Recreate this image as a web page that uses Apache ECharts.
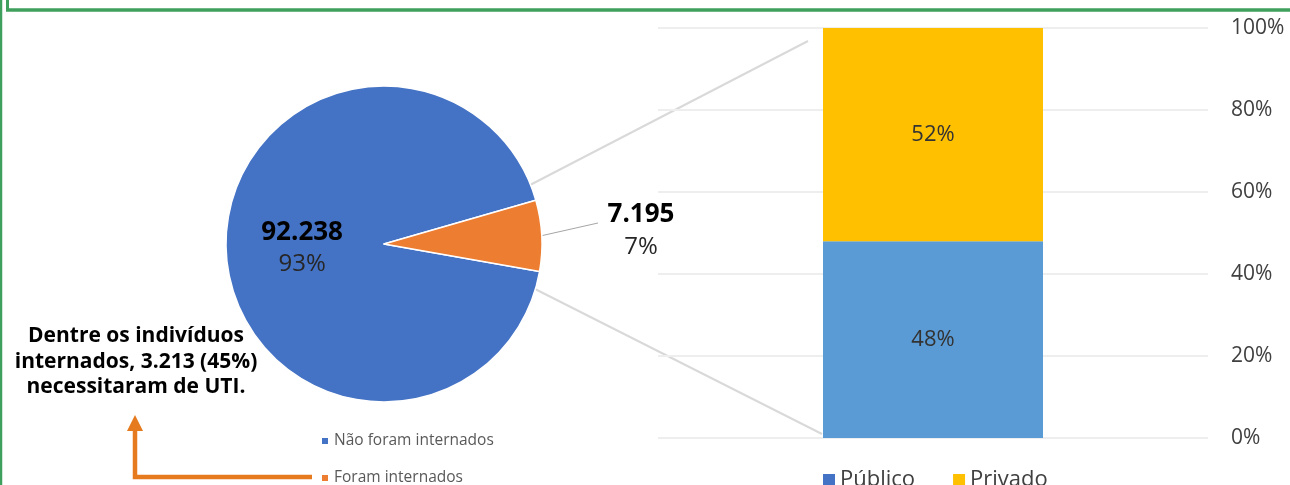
<!DOCTYPE html>
<html>
<head>
<meta charset="utf-8">
<script src="https://cdn.jsdelivr.net/npm/echarts@6/dist/echarts.min.js"></script>
<style>
  html, body { margin: 0; padding: 0; background: #fff; }
  #chart { width: 1290px; height: 485px; }
</style>
</head>
<body>
<div id="chart"></div>
<script>
// dados do gráfico
const pieNames = ['Não foram internados', 'Foram internados']
const pieValues = [92238, 7195]
const piePercents = [93, 7]
const barCategories = ['Internados']
const publicoValues = [48]
const privadoValues = [52]
const yTicks = [0, 20, 40, 60, 80, 100]

const chart = echarts.init(document.getElementById('chart'))
const font = '"Open Sans", "Noto Sans", sans-serif'
const green = '#3f9f5c'
const orange = '#e57a1f'

const pieLegendStyle = { fontSize: 15.5, color: '#595959', fontFamily: font }

const option = {
  backgroundColor: '#fff',
  textStyle: { fontFamily: font },
  animation: false,
  legend: [{
    // legenda da pizza (um item por legenda)
    left: 315,
    top: 428,
    itemWidth: 8,
    itemHeight: 8,
    icon: 'rect',
    data: [pieNames[0]],
    textStyle: pieLegendStyle
  }, {
    left: 315,
    top: 465,
    itemWidth: 8,
    itemHeight: 8,
    icon: 'rect',
    data: [pieNames[1]],
    textStyle: pieLegendStyle
  }, {
    // legenda das barras
    left: 818,
    top: 464,
    itemWidth: 12,
    itemHeight: 12,
    itemGap: 38,
    icon: 'rect',
    data: [
      { name: 'Público', itemStyle: { color: '#4472c4' } },
      { name: 'Privado', itemStyle: { color: '#ffc000' } }
    ],
    textStyle: { fontSize: 22, color: '#404040', fontFamily: font }
  }],
  grid: {
    left: 658,
    right: 82,
    top: 28,
    bottom: 47
  },
  xAxis: {
    type: 'category',
    data: barCategories,
    axisLine: { show: false },
    axisTick: { show: false },
    axisLabel: { show: false }
  },
  yAxis: {
    type: 'value',
    position: 'right',
    min: yTicks[0],
    max: yTicks[yTicks.length - 1],
    interval: yTicks[1] - yTicks[0],
    axisLine: { show: false },
    axisTick: { show: false },
    axisLabel: {
      formatter: '{value}%',
      align: 'left',
      margin: 23,
      fontSize: 21,
      color: '#404040',
      fontFamily: font
    },
    splitLine: { lineStyle: { color: '#eeeeee', width: 2 } }
  },
  series: [{
    name: 'pizza',
    type: 'pie',
    center: [384, 244],
    radius: 158,
    startAngle: -10,
    clockwise: true,
    itemStyle: { borderColor: '#fff', borderWidth: 1.5 },
    data: pieNames.map((n, i) => ({
      name: n,
      value: pieValues[i],
      itemStyle: { color: i === 0 ? '#4472c4' : '#ed7d31' },
      label: { position: i === 0 ? 'inside' : 'outside' },
      labelLine: { show: i !== 0 }
    })),
    label: {
      formatter: p => '{b|' + p.value.toLocaleString('de-DE') + '}\n{p|' + piePercents[p.dataIndex] + '%}',
      rich: {
        b: { fontSize: 26, fontWeight: 'bold', color: '#000', fontFamily: font, lineHeight: 32, align: 'center' },
        p: { fontSize: 24, color: '#262626', fontFamily: font, lineHeight: 32, align: 'center' }
      }
    },
    labelLine: { lineStyle: { color: '#a6a6a6', width: 1 } },
    labelLayout: function (params) {
      if (params.dataIndex === 1) {
        const start = params.labelLinePoints ? params.labelLinePoints[0] : [540, 236]
        return {
          x: 641, y: 231, align: 'center', verticalAlign: 'middle',
          labelLinePoints: [start, [598, 223]]
        }
      }
      return {}
    },
    emphasis: { disabled: true }
  }, {
    name: 'Público',
    type: 'bar',
    stack: 'total',
    barWidth: 220,
    data: publicoValues,
    itemStyle: { color: '#5b9bd5' },
    label: { show: true, position: 'inside', formatter: '{c}%', fontSize: 22, color: '#333', fontFamily: font }
  }, {
    name: 'Privado',
    type: 'bar',
    stack: 'total',
    barWidth: 220,
    data: privadoValues,
    itemStyle: { color: '#ffc000' },
    label: { show: true, position: 'inside', formatter: '{c}%', fontSize: 22, color: '#333', fontFamily: font }
  }],
  graphic: [
    // moldura verde
    { type: 'line', shape: { x1: 1, y1: 0, x2: 1, y2: 485 }, style: { stroke: green, lineWidth: 2.5 } },
    { type: 'line', shape: { x1: 7.5, y1: 0, x2: 7.5, y2: 10 }, style: { stroke: green, lineWidth: 3 } },
    { type: 'line', shape: { x1: 6, y1: 10, x2: 1290, y2: 10 }, style: { stroke: green, lineWidth: 3.5 } },
    // linhas ligando pizza e barra
    { type: 'line', shape: { x1: 530, y1: 185, x2: 808, y2: 41 }, style: { stroke: '#d9d9d9', lineWidth: 2 } },
    { type: 'line', shape: { x1: 535, y1: 289, x2: 822, y2: 434 }, style: { stroke: '#d9d9d9', lineWidth: 2 } },
    // anotação
    {
      type: 'text',
      x: 136,
      y: 362,
      style: {
        text: 'Dentre os indivíduos\ninternados, 3.213 (45%)\nnecessitaram de UTI.',
        font: 'bold 21px ' + font,
        fill: '#000',
        align: 'center',
        verticalAlign: 'middle',
        lineHeight: 25.5
      }
    },
    // seta laranja
    { type: 'polyline', shape: { points: [[312, 477], [135, 477], [135, 430]] }, style: { stroke: orange, lineWidth: 4.5, fill: null } },
    { type: 'polygon', shape: { points: [[127, 431], [143, 431], [135, 415]] }, style: { fill: orange } }
  ]
}

chart.setOption(option)
</script>
</body>
</html>
